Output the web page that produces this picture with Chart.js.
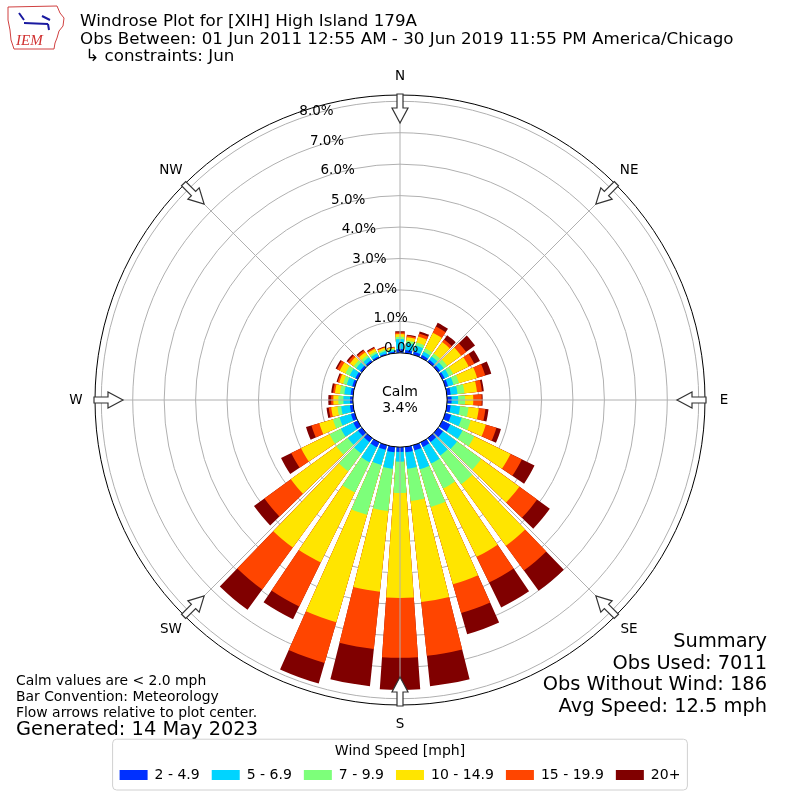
<!DOCTYPE html>
<html lang="en">
<head>
<meta charset="UTF-8"/>
<title>Windrose Plot for [XIH] High Island 179A</title>
<script src="https://cdn.jsdelivr.net/npm/chart.js"></script>
<style>
  html, body { margin: 0; padding: 0; background: #fff; }
  #wrap { width: 800px; height: 800px; }
</style>
</head>
<body>
<div id="wrap"><canvas id="rose" width="800" height="800"></canvas></div>
<script>
// direction bins (degrees, meteorological: where the wind comes from)
const directions = [0, 10, 20, 30, 40, 50, 60, 70, 80, 90, 100, 110, 120, 130, 140, 150, 160, 170,
                    180, 190, 200, 210, 220, 230, 240, 250, 260, 270, 280, 290, 300, 310, 320, 330, 340, 350];
const speedBins = ['2 - 4.9', '5 - 6.9', '7 - 9.9', '10 - 14.9', '15 - 19.9', '20+'];
const binColors = ['#0030ff', '#00d4ff', '#7dff7a', '#ffe500', '#ff4500', '#800000'];

// percent of observations per direction for each speed bin
const speed2  = [0.12, 0.10, 0.10, 0.09, 0.08, 0.08, 0.08, 0.09, 0.12, 0.14, 0.12, 0.19, 0.28, 0.19, 0.15, 0.16, 0.17, 0.17,
                 0.15, 0.17, 0.15, 0.17, 0.15, 0.15, 0.15, 0.12, 0.10, 0.09, 0.08, 0.08, 0.08, 0.07, 0.06, 0.05, 0.04, 0.04];
const speed5  = [0.32, 0.22, 0.20, 0.12, 0.13, 0.14, 0.15, 0.18, 0.22, 0.21, 0.30, 0.35, 0.43, 0.55, 0.53, 0.59, 0.62, 0.53,
                 0.31, 0.53, 0.50, 0.53, 0.45, 0.40, 0.44, 0.38, 0.28, 0.21, 0.20, 0.18, 0.20, 0.15, 0.12, 0.10, 0.08, 0.06];
const speed7  = [0.07, 0.08, 0.10, 0.12, 0.12, 0.13, 0.15, 0.18, 0.22, 0.22, 0.27, 0.30, 0.42, 0.95, 1.13, 0.88, 1.25, 1.03,
                 1.00, 1.35, 1.65, 1.07, 0.70, 0.45, 0.40, 0.22, 0.12, 0.16, 0.14, 0.12, 0.15, 0.10, 0.08, 0.07, 0.05, 0.04];
const speed10 = [0.09, 0.11, 0.20, 0.55, 0.45, 0.55, 0.55, 0.60, 0.40, 0.26, 0.33, 0.50, 1.28, 1.50, 2.42, 2.42, 2.56, 3.23,
                 3.34, 2.58, 3.55, 2.48, 3.00, 1.79, 1.01, 0.45, 0.20, 0.16, 0.16, 0.13, 0.20, 0.15, 0.12, 0.09, 0.06, 0.04];
const speed15 = [0.05, 0.05, 0.10, 0.22, 0.10, 0.20, 0.20, 0.27, 0.16, 0.27, 0.21, 0.35, 0.40, 0.70, 0.97, 0.91, 0.95, 1.72,
                 1.90, 1.83, 1.35, 1.56, 1.65, 1.04, 0.35, 0.26, 0.08, 0.07, 0.06, 0.05, 0.10, 0.08, 0.07, 0.04, 0.02, 0.01];
const speed20 = [0.04, 0.03, 0.07, 0.13, 0.17, 0.35, 0.20, 0.20, 0.06, 0.03, 0.10, 0.15, 0.45, 0.50, 0.80, 0.88, 0.70, 0.97,
                 1.02, 1.19, 0.68, 0.45, 0.80, 0.41, 0.36, 0.18, 0.07, 0.09, 0.06, 0.04, 0.05, 0.05, 0.04, 0.03, 0.02, 0.01];

const tickValues = [0, 1, 2, 3, 4, 5, 6, 7, 8];
const radialMin = -1.5;   // leaves room for the calm circle
const radialMax = 8.2;
const calmPct = 3.4;
const compassNames = ['N', 'NE', 'E', 'SE', 'S', 'SW', 'W', 'NW'];

const titleLines = [
  'Windrose Plot for [XIH] High Island 179A',
  'Obs Between: 01 Jun 2011 12:55 AM - 30 Jun 2019 11:55 PM America/Chicago',
  ' \u21b3 constraints: Jun'
];
const noteLines = ['Calm values are < 2.0 mph', 'Bar Convention: Meteorology', 'Flow arrows relative to plot center.'];
const generatedLine = 'Generated: 14 May 2023';
const summaryLines = ['Summary', 'Obs Used: 7011', 'Obs Without Wind: 186', 'Avg Speed: 12.5 mph'];

const FONT = '"DejaVu Sans", sans-serif';
const barAngle = 8;   // degrees of each wedge
const gapAngle = 2;   // white gap between wedges

// stack the bins: every dataset holds the running total up to its bin
const binValues = [speed2, speed5, speed7, speed10, speed15, speed20];
const labels = [];
directions.forEach(d => { labels.push(d + '\u00b0'); labels.push(''); });

const datasets = binValues.map((bin, k) => {
  const data = [];
  directions.forEach((d, i) => {
    let total = 0;
    for (let j = 0; j <= k; j++) total += binValues[j][i];
    data.push(total);
    data.push(0);   // gap element
  });
  return {
    label: speedBins[k],
    data: data,
    backgroundColor: ctx => ctx.dataIndex % 2 ? 'rgba(0,0,0,0)' : binColors[k],
    borderWidth: 0,
    angle: ctx => ctx.dataIndex % 2 ? gapAngle : barAngle,
    clip: false
  };
});

const center = { x: 400, y: 400, radius: 305 };

const placeScale = {
  id: 'placeScale',
  afterLayout(chart) {
    const r = chart.scales.r;
    r.xCenter = center.x;
    r.yCenter = center.y;
    r.drawingArea = center.radius;
  }
};

const decorations = {
  id: 'decorations',
  afterDraw(chart) {
    const ctx = chart.ctx;
    const r = chart.scales.r;
    const cx = r.xCenter, cy = r.yCenter;
    const r0 = r.getDistanceFromCenterForValue(0);
    const rMax = r.getDistanceFromCenterForValue(radialMax);
    ctx.save();

    // angle lines every 45 degrees, over the bars like the original
    ctx.strokeStyle = '#b0b0b0';
    ctx.lineWidth = 1;
    for (let a = 0; a < 8; a++) {
      const t = a * Math.PI / 4;
      ctx.beginPath();
      ctx.moveTo(cx + r0 * Math.sin(t), cy - r0 * Math.cos(t));
      ctx.lineTo(cx + rMax * Math.sin(t), cy - rMax * Math.cos(t));
      ctx.stroke();
    }

    // calm circle
    ctx.beginPath();
    ctx.arc(cx, cy, r0, 0, Math.PI * 2);
    ctx.fillStyle = '#fff';
    ctx.fill();
    ctx.strokeStyle = '#000';
    ctx.lineWidth = 1;
    ctx.stroke();
    ctx.fillStyle = '#000';
    ctx.font = '14px ' + FONT;
    ctx.textAlign = 'center';
    ctx.textBaseline = 'middle';
    ctx.fillText('Calm', cx, cy - 8);
    ctx.fillText(calmPct.toFixed(1) + '%', cx, cy + 8);

    // radial tick labels
    const tickAng = 19.7 * Math.PI / 180;
    ctx.font = '13.5px ' + FONT;
    ctx.textAlign = 'left';
    ctx.textBaseline = 'bottom';
    tickValues.forEach(v => {
      const d = r.getDistanceFromCenterForValue(v);
      ctx.fillText(v.toFixed(1) + '%', cx - d * Math.sin(tickAng), cy - d * Math.cos(tickAng) - 0.5);
    });

    // compass labels and flow arrows
    ctx.textAlign = 'center';
    ctx.textBaseline = 'middle';
    ctx.font = '13.5px ' + FONT;
    compassNames.forEach((name, a) => {
      const t = a * Math.PI / 4;
      ctx.fillStyle = '#000';
      ctx.fillText(name, cx + 324 * Math.sin(t), cy - 324 * Math.cos(t));

      ctx.save();
      ctx.translate(cx, cy);
      ctx.rotate(t);
      ctx.beginPath();
      ctx.moveTo(-3, -306);
      ctx.lineTo(3, -306);
      ctx.lineTo(3, -292);
      ctx.lineTo(8, -292);
      ctx.lineTo(0, -277);
      ctx.lineTo(-8, -292);
      ctx.lineTo(-3, -292);
      ctx.closePath();
      ctx.fillStyle = '#fff';
      ctx.fill();
      ctx.strokeStyle = '#333';
      ctx.lineWidth = 1.2;
      ctx.stroke();
      ctx.restore();
    });

    // header
    ctx.fillStyle = '#000';
    ctx.textAlign = 'left';
    ctx.textBaseline = 'alphabetic';
    ctx.font = '16.7px ' + FONT;
    titleLines.forEach((t, i) => ctx.fillText(t, 80, 26 + i * 17.5));

    // footnotes
    ctx.font = '13.9px ' + FONT;
    noteLines.forEach((t, i) => ctx.fillText(t, 16, 685 + i * 16));
    ctx.font = '19.4px ' + FONT;
    ctx.fillText(generatedLine, 16, 735);

    // summary
    ctx.textAlign = 'right';
    ctx.font = '19.4px ' + FONT;
    summaryLines.forEach((t, i) => ctx.fillText(t, 767, 647 + i * 21.5));

    // legend frame
    const lg = chart.legend;
    if (lg && lg.legendHitBoxes && lg.legendHitBoxes.length) {
      const hb = lg.legendHitBoxes;
      const left = Math.min(...hb.map(b => b.left)) - 7;
      const right = Math.max(...hb.map(b => b.left + b.width)) + 7;
      const top = lg.top + 1;
      const bottom = hb[0].top + hb[0].height + 8;
      ctx.beginPath();
      ctx.roundRect(left, top, right - left, bottom - top, 4);
      ctx.strokeStyle = '#d0d0d0';
      ctx.lineWidth = 1;
      ctx.stroke();
    }

    // small IEM logo
    ctx.beginPath();
    ctx.moveTo(8, 7); ctx.lineTo(57, 6); ctx.lineTo(60, 13); ctx.lineTo(64, 18);
    ctx.lineTo(63, 26); ctx.lineTo(59, 31); ctx.lineTo(57, 38); ctx.lineTo(55, 43);
    ctx.lineTo(54, 49); ctx.lineTo(14, 49); ctx.lineTo(11, 40); ctx.lineTo(10, 30);
    ctx.lineTo(8, 20); ctx.closePath();
    ctx.strokeStyle = '#d04040';
    ctx.lineWidth = 1;
    ctx.stroke();
    ctx.strokeStyle = '#1a1aa0';
    ctx.lineWidth = 2;
    ctx.beginPath();
    ctx.moveTo(24, 23); ctx.lineTo(48, 24);
    ctx.moveTo(19, 13); ctx.lineTo(24, 20);
    ctx.moveTo(42, 16); ctx.lineTo(50, 20);
    ctx.moveTo(48, 24); ctx.lineTo(49, 30);
    ctx.stroke();
    ctx.fillStyle = '#d03030';
    ctx.font = 'italic 15px "Liberation Serif", serif';
    ctx.textAlign = 'left';
    ctx.fillText('IEM', 16, 45);

    ctx.restore();
  }
};

new Chart(document.getElementById('rose'), {
  type: 'polarArea',
  data: { labels: labels, datasets: datasets },
  plugins: [placeScale, decorations],
  options: {
    responsive: false,
    animation: false,
    layout: { padding: { top: 95, left: 95, right: 95, bottom: 8 } },
    scales: {
      r: {
        min: radialMin,
        max: radialMax,
        startAngle: -barAngle / 2,
        z: 1,
        afterBuildTicks: scale => {
          scale.ticks = tickValues.concat([radialMax]).map(v => ({ value: v }));
        },
        ticks: { display: false },
        grid: {
          circular: true,
          color: ctx => (ctx.tick && ctx.tick.value === radialMax) ? '#000' : '#b0b0b0',
          lineWidth: 1
        },
        angleLines: { display: false },
        pointLabels: { display: false }
      }
    },
    plugins: {
      tooltip: { enabled: false },
      legend: {
        position: 'bottom',
        labels: {
          boxWidth: 28,
          boxHeight: 10,
          padding: 12,
          color: '#000',
          font: { family: FONT, size: 14 },
          generateLabels: chart => chart.data.datasets.map((ds, i) => ({
            text: ds.label,
            fillStyle: binColors[i],
            strokeStyle: binColors[i],
            lineWidth: 0,
            hidden: false,
            datasetIndex: i
          }))
        },
        title: {
          display: true,
          text: 'Wind Speed [mph]',
          color: '#000',
          font: { family: FONT, size: 14 },
          padding: { top: 6, bottom: -5 }
        }
      }
    }
  }
});
</script>
</body>
</html>
